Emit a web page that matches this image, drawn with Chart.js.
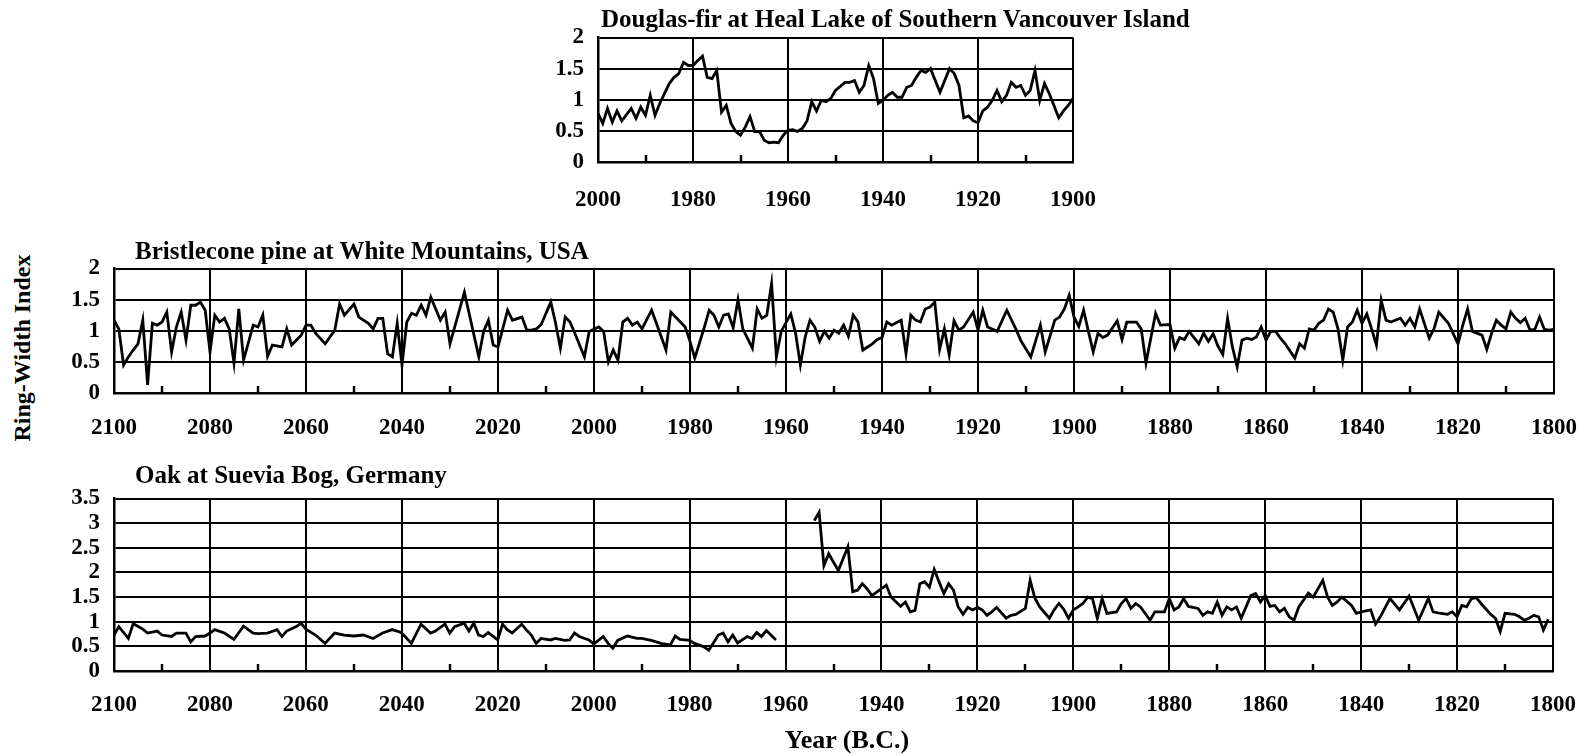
<!DOCTYPE html>
<html>
<head>
<meta charset="utf-8">
<title>Ring-Width Index</title>
<script src="https://cdn.jsdelivr.net/npm/chart.js@4.4.1/dist/chart.umd.min.js"></script>
<style>
  html, body { margin: 0; padding: 0; background: #fff; }
  body { width: 1592px; height: 756px; position: relative; overflow: hidden;
         font-family: 'Liberation Serif', 'Times New Roman', serif; color: #000; }
  canvas { position: absolute; }
  .txt { position: absolute; white-space: nowrap; font-weight: bold; font-size: 25px; line-height: 1; z-index: 2; }
</style>
</head>
<body>
<canvas id="firChart"></canvas>
<canvas id="pineChart"></canvas>
<canvas id="oakChart"></canvas>

<div class="txt" id="firTitle" style="left:601px; top:6px;"></div>
<div class="txt" id="pineTitle" style="left:135px; top:238px;"></div>
<div class="txt" id="oakTitle" style="left:135px; top:462px;"></div>
<div class="txt" style="left:22px; top:348px; font-size:24px; transform:translate(-50%,-50%) rotate(-90deg);">Ring-Width Index</div>
<div class="txt" style="left:847px; top:727px; font-size:26px; transform:translateX(-50%);">Year (B.C.)</div>

<script>
// ---- Series: ring-width index by year (B.C.) ----
const firTitle = 'Douglas-fir at Heal Lake of Southern Vancouver Island';
const firYears = [2000,1999,1998,1997,1996,1995,1993,1992,1991,1990,1989,1988,1987,1985,1984,1983,1982,1981,1980,1979,
  1978,1977,1976,1975,1974,1973,1972,1971,1970,1969,1968,1967,1966,1965,1964,1963,1962,1961,1960,1959,
  1958,1957,1956,1955,1954,1953,1952,1951,1950,1948,1947,1946,1945,1944,1943,1942,1941,1940,1939,1938,
  1937,1936,1935,1934,1933,1932,1931,1930,1928,1926,1925,1924,1923,1922,1921,1920,1919,1918,1917,1916,
  1915,1914,1913,1912,1911,1910,1909,1908,1907,1906,1905,1903,1902,1901,1900];
const firIndex = [0.78,0.62,0.86,0.64,0.82,0.66,0.86,0.70,0.88,0.75,1.07,0.75,0.94,1.26,1.36,1.42,1.60,1.55,1.55,1.63,
  1.70,1.36,1.34,1.47,0.80,0.91,0.62,0.49,0.43,0.56,0.73,0.49,0.49,0.35,0.31,0.32,0.31,0.43,0.51,0.52,
  0.49,0.54,0.66,0.97,0.82,0.99,0.97,1.02,1.15,1.28,1.28,1.31,1.12,1.23,1.55,1.34,0.94,0.99,1.07,1.12,
  1.04,1.04,1.20,1.23,1.36,1.47,1.44,1.50,1.12,1.50,1.42,1.23,0.71,0.74,0.66,0.63,0.82,0.88,0.99,1.15,
  0.97,1.07,1.28,1.20,1.23,1.07,1.15,1.47,0.99,1.26,1.10,0.71,0.82,0.91,1.02];

const pineTitle = 'Bristlecone pine at White Mountains, USA';
const pineYears = [2100,2099,2098,2097,2096,2095,2094,2093,2092,2091,2090,2089,2088,2087,2086,2085,2084,2083,2082,2081,
  2080,2079,2078,2077,2076,2075,2074,2073,2071,2070,2069,2068,2067,2065,2064,2063,2061,2060,2059,2058,
  2056,2055,2054,2053,2052,2050,2049,2047,2046,2045,2044,2043,2042,2041,2040,2039,2038,2037,2036,2035,
  2034,2032,2031,2030,2027,2024,2023,2022,2021,2020,2018,2017,2015,2014,2013,2012,2011,2009,2008,2007,
  2006,2005,2004,2002,2001,1999,1998,1997,1996,1995,1994,1993,1992,1991,1990,1988,1987,1985,1984,1981,
  1980,1979,1977,1976,1975,1974,1973,1972,1971,1970,1969,1967,1966,1965,1964,1963,1962,1961,1959,1958,
  1957,1956,1955,1954,1953,1952,1951,1950,1949,1948,1947,1946,1945,1944,1942,1941,1940,1939,1938,1936,
  1935,1934,1933,1932,1931,1930,1929,1928,1927,1926,1925,1924,1923,1921,1920,1919,1918,1916,1914,1912,
  1911,1909,1907,1906,1904,1903,1902,1901,1900,1899,1898,1897,1896,1895,1894,1893,1891,1890,1889,1887,
  1886,1885,1883,1882,1880,1879,1878,1877,1876,1874,1873,1872,1871,1870,1869,1868,1867,1866,1865,1864,
  1863,1862,1861,1860,1859,1858,1857,1856,1854,1853,1852,1851,1850,1849,1848,1847,1846,1845,1844,1843,
  1842,1841,1840,1839,1838,1837,1836,1835,1834,1832,1831,1830,1829,1828,1826,1825,1824,1822,1820,1819,
  1818,1817,1815,1814,1813,1812,1811,1810,1809,1808,1807,1806,1805,1804,1803,1802,1801,1800];
const pineIndex = [1.17,1.03,0.45,0.58,0.69,0.79,1.17,0.13,1.12,1.09,1.14,1.30,0.66,1.06,1.30,0.85,1.41,1.41,1.46,1.33,
  0.66,1.25,1.14,1.20,1.03,0.48,1.35,0.53,1.09,1.06,1.25,0.59,0.77,0.74,1.03,0.77,0.93,1.09,1.09,0.96,
  0.79,0.90,1.01,1.43,1.25,1.43,1.22,1.12,1.03,1.20,1.20,0.63,0.58,1.12,0.45,1.14,1.28,1.25,1.41,1.25,
  1.54,1.17,1.30,0.79,1.62,0.58,0.99,1.17,0.77,0.74,1.33,1.17,1.22,1.01,1.01,1.03,1.10,1.46,1.12,0.72,
  1.22,1.14,0.96,0.58,0.99,1.06,0.99,0.50,0.69,0.53,1.14,1.20,1.09,1.14,1.03,1.33,1.12,0.69,1.30,1.06,
  0.83,0.56,1.06,1.33,1.25,1.06,1.25,1.27,1.05,1.50,1.03,0.72,1.35,1.20,1.25,1.76,0.58,0.99,1.27,0.96,
  0.45,0.90,1.17,1.06,0.83,0.99,0.88,1.01,0.96,1.09,0.91,1.25,1.14,0.69,0.79,0.86,0.89,1.14,1.09,1.17,
  0.63,1.25,1.17,1.14,1.35,1.38,1.46,0.70,1.03,0.61,1.16,1.01,1.06,1.30,1.01,1.33,1.06,0.99,1.33,1.01,
  0.83,0.58,1.09,0.66,1.17,1.22,1.35,1.57,1.22,1.07,1.33,0.99,0.66,0.96,0.89,0.93,1.16,0.86,1.14,1.14,
  1.03,0.48,1.28,1.09,1.10,0.72,0.89,0.86,0.99,0.79,0.96,0.83,0.95,0.75,0.62,1.20,0.74,0.42,0.85,0.88,
  0.86,0.90,1.06,0.85,0.99,0.99,0.88,0.79,0.56,0.79,0.72,1.03,1.01,1.12,1.17,1.35,1.30,1.03,0.53,1.06,
  1.14,1.33,1.12,1.27,1.03,0.77,1.49,1.17,1.14,1.20,1.09,1.20,1.06,1.35,0.88,1.03,1.30,1.12,0.79,1.09,
  1.35,0.99,0.93,0.70,0.96,1.17,1.09,1.03,1.30,1.20,1.13,1.20,1.01,1.02,1.22,1.02,1.01,1.02];

const oakTitle = 'Oak at Suevia Bog, Germany';
// null marks the break in the oak record
const oakYears = [2100,2099,2097,2096,2094,2093,2091,2090,2088,2087,2085,2084,2083,2081,2080,2079,2077,2075,2073,2071,
  2070,2068,2066,2065,2064,2062,2061,2060,2058,2056,2054,2052,2050,2048,2046,2044,2042,2041,2040,2038,
  2036,2034,2033,2031,2030,2029,2027,2026,2025,2024,2023,2022,2020,2019,2018,2017,2015,2014,2013,2012,
  2011,2009,2008,2006,2005,2004,2003,2001,2000,1999,1998,1997,1996,1995,1993,1991,1990,1988,1987,1986,
  1984,1983,1982,1980,1979,1977,1976,1974,1973,1972,1971,1970,1968,1967,1966,1965,1964,1962,1958,1954,
  1953,1952,1951,1949,1947,1946,1945,1944,1943,1942,1940,1939,1938,1936,1935,1934,1933,1932,1931,1930,
  1929,1928,1927,1926,1925,1924,1923,1922,1921,1920,1919,1918,1917,1916,1914,1913,1912,1910,1909,1908,
  1907,1905,1904,1903,1902,1901,1900,1899,1898,1897,1896,1895,1894,1893,1891,1890,1889,1888,1887,1886,
  1884,1883,1881,1880,1879,1878,1877,1876,1874,1873,1872,1871,1870,1869,1868,1867,1866,1865,1863,1862,
  1861,1860,1859,1858,1857,1856,1855,1854,1853,1851,1850,1848,1847,1846,1845,1844,1842,1841,1840,1838,
  1837,1836,1834,1832,1830,1828,1826,1825,1824,1822,1821,1820,1819,1818,1817,1816,1815,1813,1812,1811,
  1810,1808,1807,1806,1805,1804,1803,1802,1801];
const oakIndex = [0.73,0.90,0.66,0.96,0.85,0.77,0.81,0.73,0.70,0.77,0.77,0.59,0.70,0.71,0.77,0.84,0.77,0.64,0.91,0.77,
  0.76,0.77,0.84,0.70,0.81,0.90,0.97,0.85,0.73,0.56,0.77,0.73,0.71,0.73,0.66,0.77,0.84,0.81,0.77,0.56,
  0.95,0.77,0.81,0.95,0.77,0.90,0.97,0.81,0.97,0.73,0.70,0.78,0.63,0.95,0.84,0.77,0.95,0.83,0.73,0.56,
  0.66,0.63,0.66,0.62,0.63,0.77,0.70,0.63,0.55,0.62,0.70,0.56,0.46,0.62,0.71,0.66,0.66,0.62,0.59,0.56,
  0.53,0.71,0.64,0.62,0.56,0.49,0.42,0.73,0.77,0.59,0.73,0.57,0.70,0.66,0.78,0.70,0.82,0.63,null,3.05,
  3.22,2.14,2.38,2.04,2.52,1.61,1.64,1.77,1.67,1.53,1.67,1.74,1.50,1.31,1.40,1.20,1.23,1.77,1.81,1.70,
  2.06,1.81,1.57,1.77,1.64,1.30,1.15,1.29,1.24,1.29,1.24,1.13,1.20,1.29,1.07,1.13,1.15,1.27,1.84,1.47,
  1.30,1.07,1.24,1.37,1.25,1.07,1.24,1.30,1.37,1.50,1.47,1.07,1.47,1.17,1.20,1.37,1.47,1.27,1.37,1.30,
  1.03,1.20,1.20,1.47,1.24,1.30,1.47,1.31,1.27,1.13,1.20,1.17,1.40,1.13,1.30,1.24,1.30,1.07,1.53,1.57,
  1.40,1.53,1.31,1.33,1.20,1.27,1.10,1.03,1.30,1.58,1.50,1.84,1.50,1.33,1.40,1.50,1.33,1.17,1.20,1.24,
  0.95,1.10,1.47,1.24,1.52,1.03,1.47,1.20,1.18,1.15,1.20,1.10,1.33,1.30,1.47,1.49,1.37,1.15,1.07,0.80,
  1.17,1.15,1.10,1.03,1.07,1.13,1.10,0.83,1.05];

// Axis ranges and tick spacing per panel
const firYearRange = [1900, 2000];
const longYearRange = [1800, 2100];
const yearStep = 20;
const firIndexMax = 2;
const pineIndexMax = 2;
const oakIndexMax = 3.5;
const indexStep = 0.5;

// ---- Drawing ----
document.getElementById('firTitle').textContent = firTitle;
document.getElementById('pineTitle').textContent = pineTitle;
document.getElementById('oakTitle').textContent = oakTitle;

Chart.defaults.font.family = "'Liberation Serif', 'Times New Roman', serif";
Chart.defaults.font.size = 23;
Chart.defaults.font.weight = 'bold';
Chart.defaults.color = '#000';

// short upward marks on the bottom axis, halfway between labelled years
const midTicks = {
  id: 'midTicks',
  afterDatasetsDraw(chart) {
    const xs = chart.scales.x, area = chart.chartArea, ctx = chart.ctx;
    ctx.save();
    ctx.strokeStyle = '#000';
    ctx.lineWidth = 2.5;
    for (let v = xs.min + yearStep / 2; v < xs.max; v += yearStep) {
      const px = Math.round(xs.getPixelForValue(v));
      ctx.beginPath();
      ctx.moveTo(px, area.bottom);
      ctx.lineTo(px, area.bottom - 7);
      ctx.stroke();
    }
    ctx.restore();
  }
};

function toPoints(years, values) {
  return years.map((x, i) => ({ x: x, y: values[i] }));
}

function panelConfig(years, values, yearRange, indexMax, labelGap, yAxisW, xAxisH, pad) {
  return {
    type: 'line',
    data: {
      datasets: [{
        data: toPoints(years, values),
        borderColor: '#000',
        borderWidth: 2.8,
        pointRadius: 0,
        tension: 0,
        spanGaps: false,
        fill: false
      }]
    },
    options: {
      responsive: false,
      animation: false,
      devicePixelRatio: 1,
      layout: { padding: pad },
      plugins: { legend: { display: false }, tooltip: { enabled: false }, title: { display: false } },
      scales: {
        x: {
          type: 'linear',
          reverse: true,
          min: yearRange[0],
          max: yearRange[1],
          afterFit(s) { s.height = xAxisH; },
          grid: { color: '#000', lineWidth: 2, drawTicks: false },
          border: { color: '#000', width: 2.5 },
          ticks: {
            stepSize: yearStep,
            autoSkip: false,
            maxRotation: 0,
            padding: labelGap,
            font: { size: 23, weight: 'bold', lineHeight: 1 },
            callback: v => String(v)
          }
        },
        y: {
          min: 0,
          max: indexMax,
          afterFit(s) { s.width = yAxisW; },
          grid: { color: '#000', lineWidth: 2, drawTicks: false },
          border: { color: '#000', width: 2.5 },
          ticks: {
            stepSize: indexStep,
            autoSkip: false,
            padding: 14,
            font: { size: 23, weight: 'bold', lineHeight: 1 },
            callback: v => String(v)
          }
        }
      }
    },
    plugins: [midTicks]
  };
}

// area: plot box in page pixels {l, t, r, b}; labelGap: space from axis to year labels
function drawPanel(id, years, values, yearRange, indexMax, area, labelGap) {
  const yAxisW = 70, xAxisH = 62;
  const pad = { top: 22, right: 40, left: 0, bottom: 0 };
  const cv = document.getElementById(id);
  let w = (area.r - area.l) + yAxisW + pad.right;
  let h = (area.b - area.t) + xAxisH + pad.top;

  const build = () => {
    cv.width = w; cv.height = h;
    cv.style.width = w + 'px'; cv.style.height = h + 'px';
    return new Chart(cv, panelConfig(years, values, yearRange, indexMax, labelGap, yAxisW, xAxisH, pad));
  };

  let chart = build();
  // label overhang can eat into the plot box; grow the canvas by the shortfall and rebuild
  const ca = chart.chartArea;
  const dw = (area.r - area.l) - (ca.right - ca.left);
  const dh = (area.b - area.t) - (ca.bottom - ca.top);
  if (dw !== 0 || dh !== 0) {
    chart.destroy();
    w += dw; h += dh;
    chart = build();
  }
  cv.style.left = (area.l - chart.chartArea.left) + 'px';
  cv.style.top = (area.t - chart.chartArea.top) + 'px';
  return chart;
}

drawPanel('firChart', firYears, firIndex, firYearRange, firIndexMax, { l: 598, t: 37, r: 1073, b: 162 }, 27);
drawPanel('pineChart', pineYears, pineIndex, longYearRange, pineIndexMax, { l: 114, t: 268, r: 1554, b: 393 }, 24);
drawPanel('oakChart', oakYears, oakIndex, longYearRange, oakIndexMax, { l: 114, t: 498, r: 1553, b: 671 }, 23);
</script>
</body>
</html>
